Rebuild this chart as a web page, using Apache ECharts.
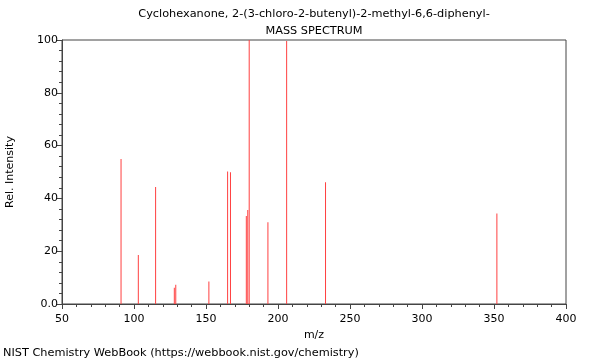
<!DOCTYPE html>
<html><head><meta charset="utf-8">
<script src="https://cdn.jsdelivr.net/npm/echarts@6/dist/echarts.min.js"></script>
<style>html,body{margin:0;padding:0;background:#fff}#c{width:600px;height:360px}</style>
</head><body><div id="c"></div>
<script>
const mz = [91, 103, 115, 128, 129, 152, 165, 167, 178, 179, 180, 193, 206, 233, 352];
const intensity = [54.9, 18.6, 44.3, 6.2, 7.3, 8.5, 50.2, 49.9, 33.3, 35.6, 100, 31, 99.6, 46.1, 34.3];
const titleLines = ['Cyclohexanone, 2-(3-chloro-2-butenyl)-2-methyl-6,6-diphenyl-', 'MASS SPECTRUM'];
const footerText = 'NIST Chemistry WebBook (https://webbook.nist.gov/chemistry)';
const yTickLabels = {0: '0.0', 20: '20', 40: '40', 60: '60', 80: '80', 100: '100'};

const font = 'DejaVu Sans';
const chart = echarts.init(document.getElementById('c'), null, {renderer: 'canvas'});
const data = mz.map((m, i) => [m, intensity[i]]);
const txt = (t, x, y, align) => ({type: 'text', x: x, y: y, silent: true,
  style: {text: t, fill: '#000', font: '11.3px "DejaVu Sans"', textAlign: align, textVerticalAlign: 'middle'}});
chart.setOption({
  animation: false,
  backgroundColor: '#fff',
  textStyle: {fontFamily: font},
  graphic: [
    txt(titleLines[0], 314, 14, 'center'),
    txt(titleLines[1], 314, 31, 'center'),
    txt(footerText, 3, 353, 'left')
  ],
  grid: {left: 62, right: 34, top: 40, bottom: 56, containLabel: false, outerBoundsMode: 'none', show: true, borderColor: '#444', borderWidth: 1, backgroundColor: 'transparent'},
  xAxis: {
    type: 'value', min: 50, max: 400, interval: 50,
    name: 'm/z', nameLocation: 'middle', nameGap: 24,
    nameTextStyle: {fontFamily: font, fontSize: 11, color: '#000'},
    axisLine: {show: true, lineStyle: {color: '#444'}},
    axisTick: {show: true, length: 5, lineStyle: {color: '#444'}},
    minorTick: {show: true, splitNumber: 5, length: 3, lineStyle: {color: '#444'}},
    axisLabel: {fontFamily: font, fontSize: 11, color: '#000', margin: 10},
    splitLine: {show: false}
  },
  yAxis: {
    type: 'value', min: 0, max: 100, interval: 20,
    name: 'Rel. Intensity', nameLocation: 'middle', nameGap: 46, nameRotate: 90,
    nameTextStyle: {fontFamily: font, fontSize: 11, color: '#000'},
    axisLine: {show: true, lineStyle: {color: '#444'}},
    axisTick: {show: true, length: 5, lineStyle: {color: '#444'}},
    minorTick: {show: true, splitNumber: 5, length: 3, lineStyle: {color: '#444'}},
    axisLabel: {fontFamily: font, fontSize: 11, color: '#000', margin: 4, formatter: v => yTickLabels[v] !== undefined ? yTickLabels[v] : String(v)},
    splitLine: {show: false}
  },
  series: [{
    type: 'bar', data: data, barWidth: 1, barGap: '-100%',
    itemStyle: {color: '#ff4040'}, silent: true
  }]
});
</script></body></html>
